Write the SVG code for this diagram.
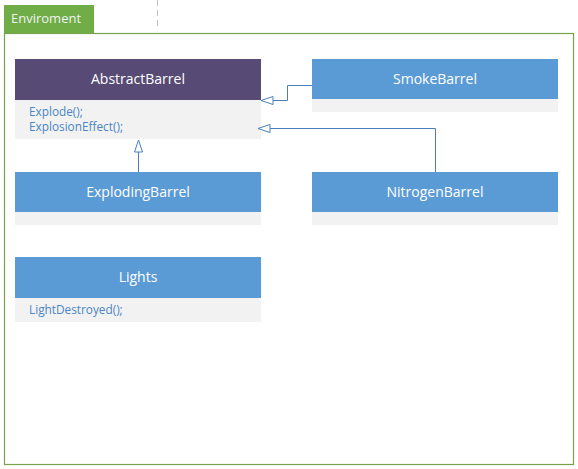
<svg xmlns="http://www.w3.org/2000/svg" width="578" height="469" viewBox="0 0 578 469">
<style>
.hdr{fill:#5B9BD5}
.hdrA{fill:#574B75}
.body{fill:#F2F2F2}
.title{font-family:"Open Sans","Noto Sans",sans-serif;font-size:14px;fill:#FFFFFF;text-anchor:middle}
.op{font-family:"Open Sans","Noto Sans",sans-serif;font-size:11.8px;fill:#4A86C5}
.conn{fill:none;stroke:#4A7EBB;stroke-width:1}
</style>
<defs>
<marker id="tri" markerWidth="14" markerHeight="10" refX="13" refY="5" orient="auto" markerUnits="userSpaceOnUse">
<path d="M1,1 L13,5 L1,9 Z" fill="#FFFFFF" stroke="#4A7EBB" stroke-width="1"/>
</marker>
</defs>
<rect width="578" height="469" fill="#FFFFFF"/>
<line x1="157.5" y1="0" x2="157.5" y2="30" stroke="#BFBFBF" stroke-dasharray="6,4"/>
<g id="environment">
<rect x="4.5" y="33.5" width="569" height="431" fill="none" stroke="#77A34F" stroke-width="1.2"/>
<rect x="4" y="5" width="90" height="28" fill="#70AD47"/>
<text x="11" y="23" font-family="'Open Sans','Noto Sans',sans-serif" font-size="13" fill="#F2F2F2">Enviroment</text>
</g>
<g id="AbstractBarrel">
<rect x="15" y="59" width="246" height="41" class="hdrA"/>
<rect x="15" y="100" width="246" height="39" class="body"/>
<text x="138" y="84" class="title">AbstractBarrel</text>
<text x="29" y="116" class="op">Explode();</text>
<text x="29" y="131" class="op">ExplosionEffect();</text>
</g>
<g id="SmokeBarrel">
<rect x="312" y="59" width="246" height="40" class="hdr"/>
<rect x="312" y="99" width="246" height="13" class="body"/>
<text x="435" y="84" class="title">SmokeBarrel</text>
</g>
<g id="ExplodingBarrel">
<rect x="15" y="172" width="246" height="40" class="hdr"/>
<rect x="15" y="212" width="246" height="13" class="body"/>
<text x="138" y="197" class="title">ExplodingBarrel</text>
</g>
<g id="NitrogenBarrel">
<rect x="312" y="172" width="246" height="40" class="hdr"/>
<rect x="312" y="212" width="246" height="13" class="body"/>
<text x="435" y="197" class="title">NitrogenBarrel</text>
</g>
<g id="Lights">
<rect x="15" y="257" width="246" height="41" class="hdr"/>
<rect x="15" y="298" width="246" height="24" class="body"/>
<text x="138" y="282" class="title">Lights</text>
<text x="29" y="314" class="op">LightDestroyed();</text>
</g>
<g id="connectors">
<path class="conn" d="M312,85.5 H287.5 V100.5 H261" marker-end="url(#tri)"/>
<path class="conn" d="M435.5,172 V128.5 H258" marker-end="url(#tri)"/>
<path class="conn" d="M138.5,172 V140" marker-end="url(#tri)"/>
</g>
</svg>
